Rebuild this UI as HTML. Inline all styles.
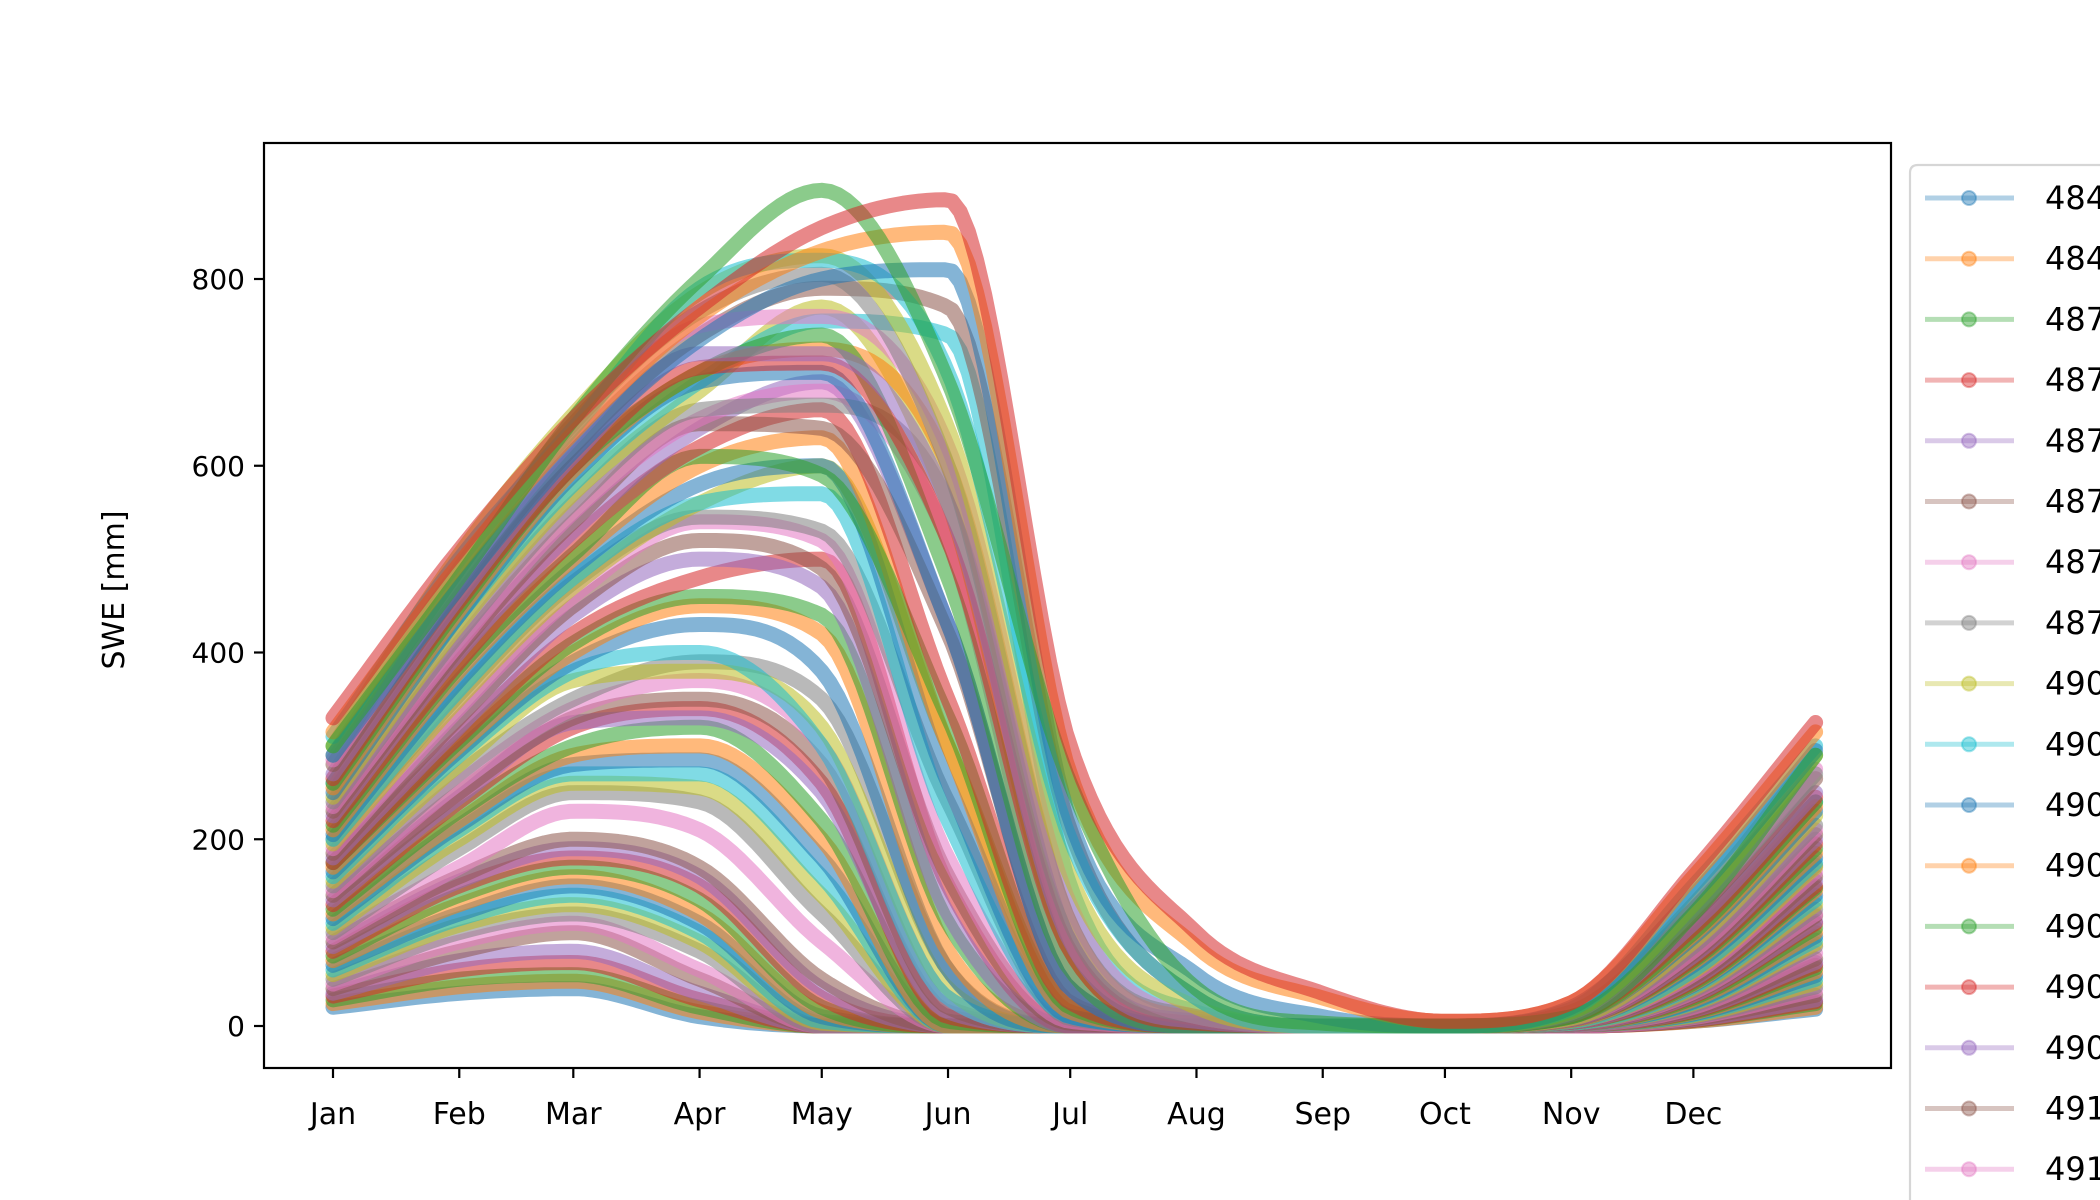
<!DOCTYPE html>
<html><head><meta charset="utf-8"><style>
html,body{margin:0;padding:0;background:#fff;overflow:hidden;}
svg{display:block;font-family:"DejaVu Sans","Liberation Sans",sans-serif;}
</style></head><body>
<svg id="chart" width="2100" height="1200" viewBox="0 0 2100 1200">
<g id="plot"></g>
<g id="axes"></g>
<g id="legend"></g>
</svg>
<script>
const monthDays = [0,31,59,90,120,151,181,212,243,273,304,334,364];
const monthLabels = ["Jan","Feb","Mar","Apr","May","Jun","Jul","Aug","Sep","Oct","Nov","Dec"];
const yTicks = [0,200,400,600,800];
const colors = ["#1f77b4","#ff7f0e","#2ca02c","#d62728","#9467bd","#8c564b","#e377c2","#7f7f7f","#bcbd22","#17becf"];
const legendLabels = ["48417","48451","48711","48725","48737","48752","48763","48789","49011","49024","49038","49052","49067","49081","49095","49112","49126"];
const s01 = [300,480,650,800,895,690,260,40,3,0,10,120,290];
const s02 = [330,510,650,770,855,885,300,100,35,5,25,165,325];
const s03 = [315,495,635,760,830,850,270,85,30,5,25,160,315];
const s04 = [290,470,615,735,800,810,220,55,10,0,20,140,295];
const s05 = [300,505,655,785,825,640,160,20,0,0,15,130,290];
const s06 = [290,490,645,765,805,600,110,10,0,0,15,125,270];
const s07 = [280,470,620,740,790,770,210,30,0,0,15,120,265];
const s08 = [270,460,610,720,720,560,90,5,0,0,12,110,250];
const s09 = [260,450,600,700,740,480,60,0,0,0,10,100,240];
const s10 = [250,440,590,690,700,430,40,0,0,0,10,95,230];
const s11 = [260,440,580,690,755,740,150,15,0,0,10,100,240];
const s12 = [245,430,570,680,770,560,80,3,0,0,8,90,225];
const s13 = [240,420,560,660,665,560,90,5,0,0,8,85,215];
const s14 = [235,410,550,650,680,520,60,0,0,0,8,80,210];
const s15 = [225,400,530,640,690,430,40,0,0,0,7,75,200];
const s16 = [220,390,520,620,660,350,25,0,0,0,7,72,195];
const s17 = [210,380,500,600,630,300,15,0,0,0,6,68,185];
const s18 = [205,370,490,580,600,260,10,0,0,0,6,65,180];
const s19 = [200,360,480,560,570,220,10,0,0,0,5,60,175];
const s20 = [195,350,470,560,600,300,20,0,0,0,5,58,170];
const s21 = [190,340,460,540,520,180,5,0,0,0,5,55,165];
const s22 = [180,320,440,500,470,120,0,0,0,0,4,50,155];
const s23 = [175,310,420,480,500,150,0,0,0,0,4,48,150];
const s24 = [170,300,400,450,420,80,0,0,0,0,4,45,145];
const s25 = [160,290,380,400,300,30,0,0,0,0,3,42,135];
const s26 = [155,280,370,380,320,40,0,0,0,0,3,40,130];
const s27 = [150,270,350,390,350,60,0,0,0,0,3,38,125];
const s28 = [140,250,330,350,280,20,0,0,0,0,3,35,118];
const s29 = [130,240,320,340,260,10,0,0,0,0,2,32,110];
const s30 = [125,230,300,320,220,5,0,0,0,0,2,30,105];
const s31 = [120,220,290,300,200,0,0,0,0,0,2,28,100];
const s32 = [110,210,270,270,160,0,0,0,0,0,2,25,92];
const s33 = [100,190,250,240,120,0,0,0,0,0,1,22,85];
const s34 = [95,170,230,210,90,0,0,0,0,0,1,20,78];
const s35 = [90,160,200,170,50,0,0,0,0,0,1,18,72];
const s36 = [80,150,180,150,30,0,0,0,0,0,1,16,65];
const s37 = [70,130,160,120,15,0,0,0,0,0,1,14,58];
const s38 = [60,115,140,100,5,0,0,0,0,0,1,12,50];
const s39 = [50,100,120,80,0,0,0,0,0,0,1,10,42];
const s40 = [45,90,110,60,0,0,0,0,0,0,0,9,38];
const s41 = [40,80,100,50,0,0,0,0,0,0,0,8,33];
const s42 = [35,70,80,35,0,0,0,0,0,0,0,7,28];
const s43 = [28,50,55,20,0,0,0,0,0,0,0,6,24];
const s44 = [20,35,40,10,0,0,0,0,0,0,0,5,18];
const s45 = [310,500,640,790,820,700,200,30,0,0,18,150,300];
const s46 = [285,480,630,750,760,620,130,10,0,0,14,125,275];
const s47 = [265,455,600,705,710,520,80,3,0,0,11,105,245];
const s48 = [230,405,540,645,640,420,40,0,0,0,8,78,205];
const s49 = [215,385,505,610,590,330,20,0,0,0,7,70,190];
const s50 = [185,330,450,520,490,160,3,0,0,0,5,52,160];
const s51 = [165,295,390,430,380,60,0,0,0,0,4,44,140];
const s52 = [145,260,340,370,300,30,0,0,0,0,3,36,120];
const s53 = [135,245,325,330,250,15,0,0,0,0,2,33,112];
const s54 = [115,215,280,285,180,0,0,0,0,0,2,26,96];
const s55 = [105,200,260,255,140,0,0,0,0,0,2,24,88];
const s56 = [85,155,190,160,40,0,0,0,0,0,1,17,68];
const s57 = [75,140,170,135,20,0,0,0,0,0,1,15,62];
const s58 = [65,120,150,110,10,0,0,0,0,0,1,13,54];
const s59 = [55,108,130,90,3,0,0,0,0,0,1,11,46];
const s60 = [32,60,68,28,0,0,0,0,0,0,0,6,26];
const s61 = [24,42,48,15,0,0,0,0,0,0,0,5,20];
const s62 = [255,445,595,700,725,600,110,8,0,0,10,98,235];
const s63 = [200,355,475,545,530,240,8,0,0,0,5,60,172];
const s64 = [175,305,410,460,440,110,0,0,0,0,4,46,148];
const series = [s44,s61,s43,s60,s42,s41,s40,s39,s59,s38,s58,s37,s57,s36,s56,s35,s34,s33,s55,s32,s54,s31,s30,s29,s53,s28,s52,s27,s26,s25,s51,s24,s64,s23,s22,s50,s21,s63,s20,s19,s18,s17,s49,s16,s15,s48,s14,s13,s12,s11,s10,s62,s09,s47,s08,s07,s46,s06,s05,s45,s04,s03,s01,s02];

const NS="http://www.w3.org/2000/svg";
const L=264,R=1891,T=143,B=1068;
const x0=333, pxPerDay=4.073;
const y0=1026, pxPerMM=747/800;
const xS=d=>x0+d*pxPerDay;
const yS=v=>y0-v*pxPerMM;
function mk(tag,attrs,parent){const e=document.createElementNS(NS,tag);for(const k in attrs)e.setAttribute(k,attrs[k]);parent.appendChild(e);return e;}

function monotone(xs,ys){
  const n=xs.length,d=[],m=[];
  for(let i=0;i<n-1;i++)d.push((ys[i+1]-ys[i])/(xs[i+1]-xs[i]));
  m[0]=d[0];m[n-1]=d[n-2];
  for(let i=1;i<n-1;i++){m[i]=(d[i-1]*d[i]<=0)?0:(d[i-1]+d[i])/2;}
  for(let i=0;i<n-1;i++){if(d[i]===0){m[i]=0;m[i+1]=0;continue;}
    const a=m[i]/d[i],b=m[i+1]/d[i],h=a*a+b*b;if(h>9){const t=3/Math.sqrt(h);m[i]=t*a*d[i];m[i+1]=t*b*d[i];}}
  return t=>{let i=0;while(i<n-2&&t>xs[i+1])i++;
    const h=xs[i+1]-xs[i],s=(t-xs[i])/h,s2=s*s,s3=s2*s;
    return (2*s3-3*s2+1)*ys[i]+(s3-2*s2+s)*h*m[i]+(-2*s3+3*s2)*ys[i+1]+(s3-s2)*h*m[i+1];};
}

const plot=document.getElementById('plot');
series.forEach((vals,i)=>{
  const f=monotone(monthDays,vals);
  const pts=[];
  for(let d=0;d<=364;d+=2){pts.push(xS(d).toFixed(1)+","+yS(Math.max(0,f(d))).toFixed(1));}
  const c=colors[i%10];
  const pl=mk('polyline',{points:pts.join(' '),fill:'none',stroke:c,'stroke-width':15,'stroke-opacity':0.55,'stroke-linejoin':'round','stroke-linecap':'round'},plot);
  
  
});

const axes=document.getElementById('axes');
const frame=mk('rect',{x:L,y:T,width:R-L,height:B-T,fill:'none',stroke:'#000','stroke-width':2.2},axes);


yTicks.forEach(v=>{
  const y=yS(v);
  mk('line',{x1:L-10,x2:L,y1:y,y2:y,stroke:'#000','stroke-width':2.2},axes);
  const t=mk('text',{x:L-19,y:y+10,'text-anchor':'end','font-size':28,fill:'#000'},axes);
  t.textContent=v;
  
  
});
monthLabels.forEach((m,i)=>{
  const x=xS(monthDays[i]);
  mk('line',{x1:x,x2:x,y1:B,y2:B+10,stroke:'#000','stroke-width':2.2},axes);
  const t=mk('text',{x:x,y:B+56,'text-anchor':'middle','font-size':30,fill:'#000'},axes);
  t.textContent=m;
  
  
});
const yl=mk('text',{x:0,y:0,transform:'translate(124,590) rotate(-90)','text-anchor':'middle','font-size':30,fill:'#000'},axes);
yl.textContent='SWE [mm]';



const leg=document.getElementById('legend');
const lr=mk('path',{d:'M1910,1200 L1910,173 Q1910,165 1918,165 L2100,165',fill:'#fff',stroke:'#d6d6d6','stroke-width':2.2},leg);


legendLabels.forEach((lab,i)=>{
  const y=198+i*60.7,c=colors[i%10];
  const g=mk('g',{},leg);
  
  
  mk('line',{x1:1925,x2:2014,y1:y,y2:y,stroke:c,'stroke-width':5,'stroke-opacity':0.35},g);
  mk('circle',{cx:1969,cy:y,r:7,fill:c,'fill-opacity':0.45,stroke:c,'stroke-opacity':0.4,'stroke-width':2},g);
  const t=mk('text',{x:2045,y:y+11,'font-size':32,fill:'#000'},g);
  t.textContent=lab;
});
</script>
</body></html>
